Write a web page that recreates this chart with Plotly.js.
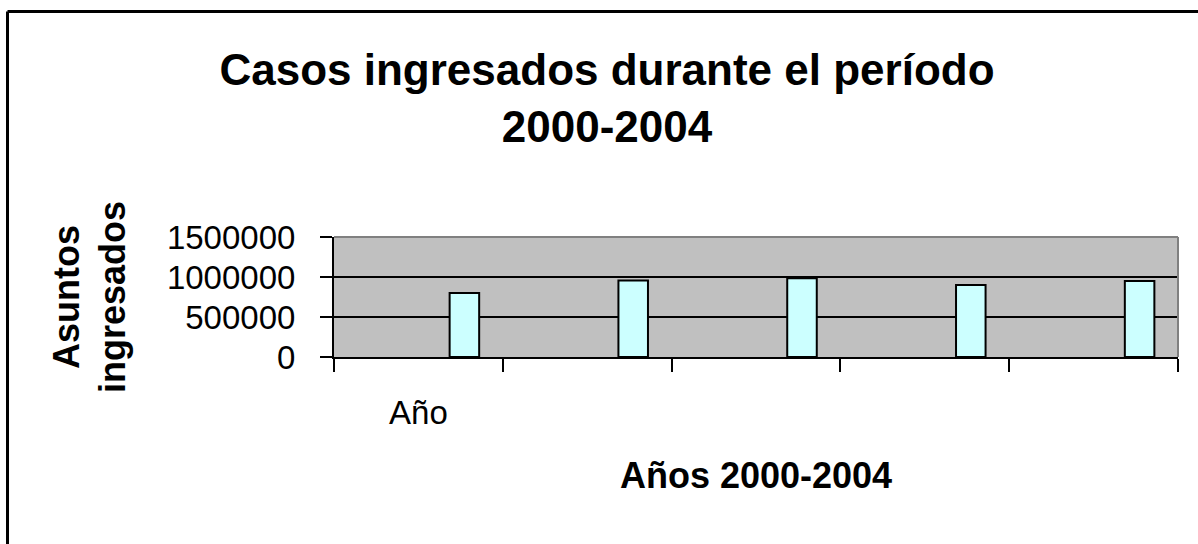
<!DOCTYPE html>
<html><head><meta charset="utf-8">
<script src="https://cdn.plot.ly/plotly-3.0.1.min.js"></script>
<style>html,body{margin:0;padding:0;background:#fff;overflow:hidden}#chart{width:1198px;height:544px}</style>
</head><body><div id="chart"></div>
<script>
const categories = ["2000", "2001", "2002", "2003", "2004"];
const tickLabels = ["Año", "", "", "", ""];
const asuntosIngresados = [800000, 955000, 985000, 900000, 950000];
const yTickValues = [0, 500000, 1000000, 1500000];

const FONT = '"Liberation Sans", Arial, Helvetica, sans-serif';

const trace = {
  type: 'bar',
  x: categories,
  y: asuntosIngresados,
  offset: 0.185,
  width: 0.175,
  marker: {color: '#CCFFFF', line: {color: '#000000', width: 2}},
  hoverinfo: 'x+y',
  showlegend: false
};

const W = 1198, H = 544;
const L = 334, R = 20, T = 237, B = 187;
const pw = W - L - R, ph = H - T - B;
function px2x(p) { return (p - L) / pw; }
function py2y(p) { return (H - B - p) / ph; }

const layout = {
  width: W, height: H,
  margin: {l: L, r: R, t: T, b: B, pad: 0},
  paper_bgcolor: '#ffffff',
  plot_bgcolor: '#C0C0C0',
  font: {family: FONT, color: '#000000', size: 33},
  showlegend: false,
  bargap: 0,
  title: {
    text: '<b>Casos ingresados durante el período<br>2000-2004</b>',
    font: {family: FONT, size: 44, color: '#000000'},
    xref: 'container', x: 607 / W, xanchor: 'center',
    yref: 'container', y: 1 - 85 / H, yanchor: 'top'
  },
  xaxis: {
    type: 'category',
    tickmode: 'array',
    tickvals: categories,
    ticktext: tickLabels,
    tickson: 'boundaries',
    ticks: 'outside', ticklen: 13, tickwidth: 2, tickcolor: '#000000',
    ticklabelstandoff: 25,
    tickfont: {family: FONT, size: 33, color: '#000000'},
    showline: true, linecolor: '#000000', linewidth: 2,
    showgrid: false, zeroline: false,
    range: [-0.5, 4.5],
    title: {
      text: '<b>Años 2000-2004</b>',
      font: {family: FONT, size: 36, color: '#000000'},
      standoff: 33
    }
  },
  yaxis: {
    range: [0, 1500000],
    tickmode: 'array',
    tickvals: yTickValues,
    tickformat: 'd',
    ticks: 'outside', ticklen: 12, tickwidth: 2, tickcolor: '#000000',
    ticklabelstandoff: 18,
    tickfont: {family: FONT, size: 33, color: '#000000'},
    showline: true, linecolor: '#000000', linewidth: 2,
    showgrid: true, gridcolor: '#000000', gridwidth: 2,
    zeroline: false,
    title: {
      text: '<b>Asuntos<br>ingresados</b>',
      font: {family: FONT, size: 36, color: '#000000'},
      standoff: 30
    }
  },
  shapes: [
    {type: 'line', xref: 'paper', yref: 'paper', x0: 0, x1: 1, y0: 1, y1: 1,
     line: {color: '#808080', width: 2}, layer: 'above'},
    {type: 'line', xref: 'paper', yref: 'paper', x0: 1, x1: 1, y0: 0, y1: 1,
     line: {color: '#808080', width: 2}, layer: 'above'},
    {type: 'line', xref: 'paper', yref: 'paper', x0: px2x(7.5), x1: px2x(1260), y0: py2y(11.5), y1: py2y(11.5),
     line: {color: '#000000', width: 3}, layer: 'above'},
    {type: 'line', xref: 'paper', yref: 'paper', x0: px2x(7.5), x1: px2x(7.5), y0: py2y(600), y1: py2y(11.5),
     line: {color: '#000000', width: 3}, layer: 'above'}
  ]
};

Plotly.newPlot('chart', [trace], layout, {displayModeBar: false, staticPlot: true});
</script>
</body></html>
